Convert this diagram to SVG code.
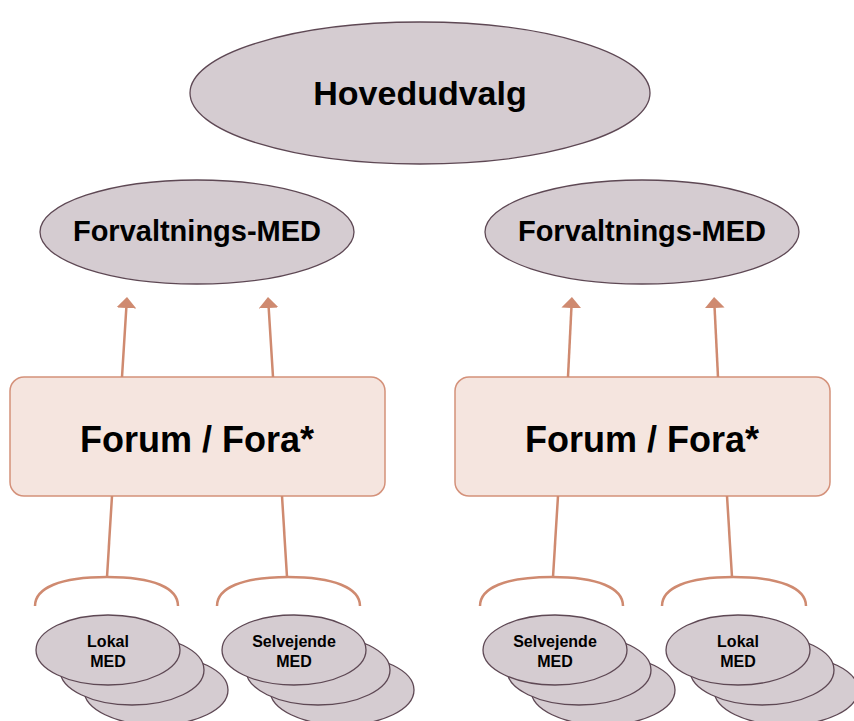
<svg xmlns="http://www.w3.org/2000/svg" width="854" height="721" viewBox="0 0 854 721">
<style>
.ell{fill:#d5ccd1;stroke:#5e4854;stroke-width:1.3}
.box{fill:#f5e5df;stroke:#d4917a;stroke-width:1.5}
.con{fill:none;stroke:#cf8a70;stroke-width:2.5}
.t{font-family:"Liberation Sans",Arial,sans-serif;font-weight:bold;fill:#000;text-anchor:middle}
</style>
<defs>
<marker id="ah" viewBox="0 0 11 20" refX="0" refY="10" markerWidth="11" markerHeight="20" markerUnits="userSpaceOnUse" orient="auto">
<path d="M0,0 L11,10 L0,20 Z" fill="#cf8a70"/>
</marker>
<g id="stack">
<ellipse class="ell" cx="48" cy="40" rx="72" ry="35"/>
<ellipse class="ell" cx="24" cy="20" rx="72" ry="35"/>
<ellipse class="ell" cx="0" cy="0" rx="72" ry="35"/>
</g>
</defs>
<g id="hovedudvalg">
<ellipse class="ell" cx="420" cy="93" rx="230" ry="71"/>
<text class="t" x="420" y="105" font-size="34">Hovedudvalg</text>
</g>
<g id="forv-left">
<ellipse class="ell" cx="197" cy="232" rx="157" ry="52"/>
<text class="t" x="197" y="241" font-size="29">Forvaltnings-MED</text>
</g>
<g id="forv-right">
<ellipse class="ell" cx="642" cy="232" rx="157" ry="52"/>
<text class="t" x="642" y="241" font-size="29">Forvaltnings-MED</text>
</g>
<g id="forum-left">
<rect class="box" x="10" y="377" width="375" height="119" rx="14"/>
<text class="t" x="197" y="452" font-size="36">Forum / Fora*</text>
</g>
<g id="forum-right">
<rect class="box" x="455" y="377" width="375" height="119" rx="14"/>
<text class="t" x="642" y="452" font-size="36">Forum / Fora*</text>
</g>
<g id="connectors">
<line class="con" x1="122" y1="377" x2="126.3" y2="308" marker-end="url(#ah)"/>
<line class="con" x1="273" y1="377" x2="268.7" y2="308" marker-end="url(#ah)"/>
<line class="con" x1="568" y1="377" x2="571.4" y2="308" marker-end="url(#ah)"/>
<line class="con" x1="718" y1="377" x2="714.6" y2="308" marker-end="url(#ah)"/>
<line class="con" x1="112" y1="496" x2="107" y2="577"/>
<line class="con" x1="282" y1="496" x2="287" y2="577"/>
<line class="con" x1="558" y1="496" x2="553" y2="577"/>
<line class="con" x1="727" y1="496" x2="732" y2="577"/>
<path class="con" d="M35,606 C35,588 60,577 107,577 C154,577 178,588 178,606"/>
<path class="con" d="M217,606 C217,588 242,577 288,577 C334,577 360,588 360,606"/>
<path class="con" d="M480,606 C480,588 505,577 552,577 C598,577 623,588 623,606"/>
<path class="con" d="M662,606 C662,588 687,577 733,577 C780,577 806,588 806,606"/>
</g>
<g id="lokal-left">
<use href="#stack" x="108" y="650"/>
<text class="t" x="108" y="647" font-size="16">Lokal</text>
<text class="t" x="108" y="667" font-size="16">MED</text>
</g>
<g id="selv-left">
<use href="#stack" x="294" y="650"/>
<text class="t" x="294" y="647" font-size="16">Selvejende</text>
<text class="t" x="294" y="667" font-size="16">MED</text>
</g>
<g id="selv-right">
<use href="#stack" x="555" y="650"/>
<text class="t" x="555" y="647" font-size="16">Selvejende</text>
<text class="t" x="555" y="667" font-size="16">MED</text>
</g>
<g id="lokal-right">
<use href="#stack" x="738" y="650"/>
<text class="t" x="738" y="647" font-size="16">Lokal</text>
<text class="t" x="738" y="667" font-size="16">MED</text>
</g>
</svg>
